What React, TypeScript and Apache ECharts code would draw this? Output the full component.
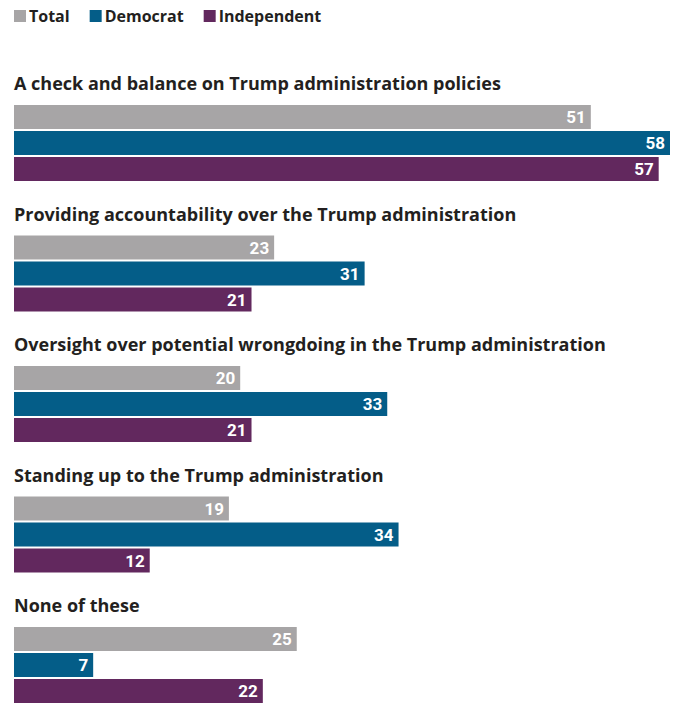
import React, { useEffect, useRef } from "react";
import * as echarts from "echarts";

const questions = [
  "A check and balance on Trump administration policies",
  "Providing accountability over the Trump administration",
  "Oversight over potential wrongdoing in the Trump administration",
  "Standing up to the Trump administration",
  "None of these",
];
const seriesNames = ["Total", "Democrat", "Independent"];
const totalValues = [51, 23, 20, 19, 25];
const democratValues = [58, 31, 33, 34, 7];
const independentValues = [57, 21, 21, 12, 22];
const colors = ["#a7a5a6", "#045d88", "#62285e"];

export default function App() {
  const ref = useRef<HTMLDivElement>(null);
  useEffect(() => {
    if (!ref.current) return;
    const chart = echarts.init(ref.current, null, { renderer: "svg" });
    const valuesBySeries = [totalValues, democratValues, independentValues];
    const groupStep = 130.5;
    const grids: any[] = [];
    const xAxes: any[] = [];
    const yAxes: any[] = [];
    const titles: any[] = [];
    const series: any[] = [];
    questions.forEach((q, i) => {
      grids.push({ left: 14, width: 656, top: 104 + groupStep * i, height: 78 });
      xAxes.push({ gridIndex: i, type: "value", min: 0, max: 58, show: false });
      yAxes.push({
        gridIndex: i,
        type: "category",
        data: seriesNames,
        inverse: true,
        show: false,
      });
      titles.push({
        text: q,
        left: 14,
        top: 74 + groupStep * i,
        padding: 0,
        textStyle: { fontFamily: "Open Sans", fontWeight: "bold", fontSize: 18, color: "#231f20" },
      });
      seriesNames.forEach((name, s) => {
        const data = seriesNames.map((_, k) => (k === s ? valuesBySeries[s][i] : "-"));
        series.push({
          name,
          type: "bar",
          xAxisIndex: i,
          yAxisIndex: i,
          stack: "g" + i,
          barWidth: 24,
          data,
          itemStyle: { color: colors[s] },
          label: {
            show: true,
            position: "insideRight",
            distance: 5,
            color: "#ffffff",
            fontFamily: "Roboto",
            fontWeight: "bold",
            fontSize: 17,
          },
        });
      });
    });
    chart.setOption({
      animation: false,
      color: colors,
      title: titles,
      legend: {
        left: 14,
        top: 8,
        padding: 0,
        itemWidth: 12,
        itemHeight: 12,
        itemGap: 20,
        icon: "rect",
        data: seriesNames,
        selectedMode: false,
        textStyle: { fontFamily: "Open Sans", fontWeight: "bold", fontSize: 16, color: "#231f20", padding: [0, 0, 0, -2] },
      },
      grid: grids,
      xAxis: xAxes,
      yAxis: yAxes,
      series,
    });
    return () => chart.dispose();
  }, []);
  return (
    <div
      ref={ref}
      style={{ position: "absolute", left: 0, top: 0, width: 676, height: 704, background: "#fff" }}
    />
  );
}
